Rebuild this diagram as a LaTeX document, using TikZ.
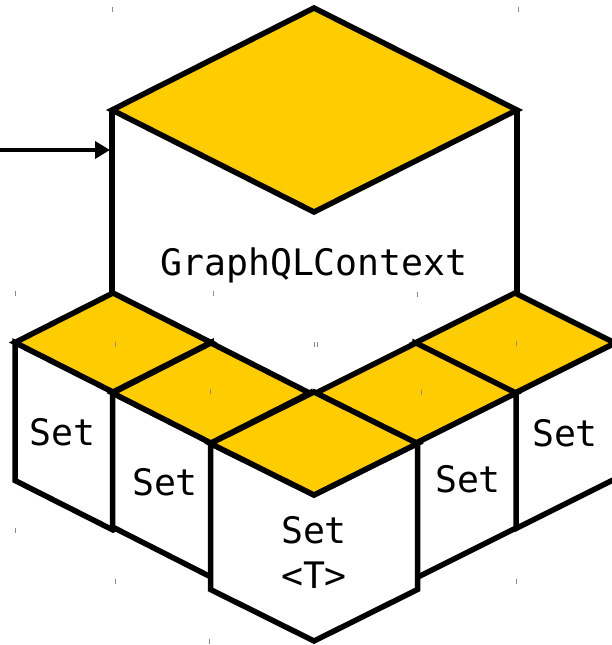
\documentclass[tikz,border=0pt]{standalone}
\usepackage{fontspec}
\newfontfamily\codefont{DejaVu Sans Mono}
\usetikzlibrary{arrows.meta}
\definecolor{gold}{RGB}{255,204,0}
\newcommand\isocube[5]{%
  \path (#1,#2) coordinate (cT) ++(#3,#4) coordinate (cR) ++(-#3,#4) coordinate (cB) ++(-#3,-#4) coordinate (cL);
  \filldraw[edge, fill=white] (cL) -- (cB) -- (cR) -- ++(0,#5) -- ++(-#3,#4) -- ++(-#3,-#4) -- cycle;
  \filldraw[edge, fill=gold] (cT) -- (cR) -- (cB) -- (cL) -- cycle;
}
\begin{document}
\begin{tikzpicture}[x=1pt,y=-1pt,
  edge/.style={line width=5.5pt, draw=black},
  lbl/.style={font=\codefont\fontsize{36.5}{44}\selectfont, anchor=base, inner sep=0pt},
  tick/.style={line width=1pt, draw=black!45}]
\useasboundingbox (0,0) rectangle (612,645);
\clip (0,0) rectangle (612,645);
% big cube
\fill[white] (112,110) -- (314,212) -- (517,110) -- (517,293) -- (314,395) -- (112,293) -- cycle;
\draw[edge] (112,110) -- (112,293);
\draw[edge] (517,110) -- (517,293);
\filldraw[edge, fill=gold] (314,8) -- (517,110) -- (314,212) -- (112,110) -- cycle;
% small cubes, back to front
\isocube{113}{293}{98}{49.5}{138}
\isocube{515}{293}{100}{50}{136}
\isocube{211}{343}{98.5}{50}{134}
\isocube{416}{343}{100}{50}{135}
\isocube{314}{392}{103.5}{51.5}{146}
% labels
\node[lbl] (ctx) at (314,275) {GraphQLContext};
\node[lbl] (setA) at (62.5,445) {Set};
\node[lbl] (setB) at (165,495) {Set};
\node[lbl] (setC) at (314,543) {Set};
\node[lbl] (setT) at (314,588) {<T>};
\node[lbl] (setD) at (468,492) {Set};
\node[lbl] (setE) at (565,446) {Set};
% arrow
\coordinate (src) at (0,150);
\coordinate (ctxin) at (110,150);
\draw[line width=4.5pt, -{Triangle[length=15pt,width=17pt]}] (src) -- (ctxin);
% ticks
\foreach \x/\y in {112/9, 518/9, 15/293, 213/293, 417/294, 115/344, 314/344, 317/344, 210/391, 516/343, 421/392, 15/530, 115/581, 209/641, 516/581}
  \draw[tick] (\x,\y-2.5) -- (\x,\y+2.5);
\end{tikzpicture}
\end{document}
